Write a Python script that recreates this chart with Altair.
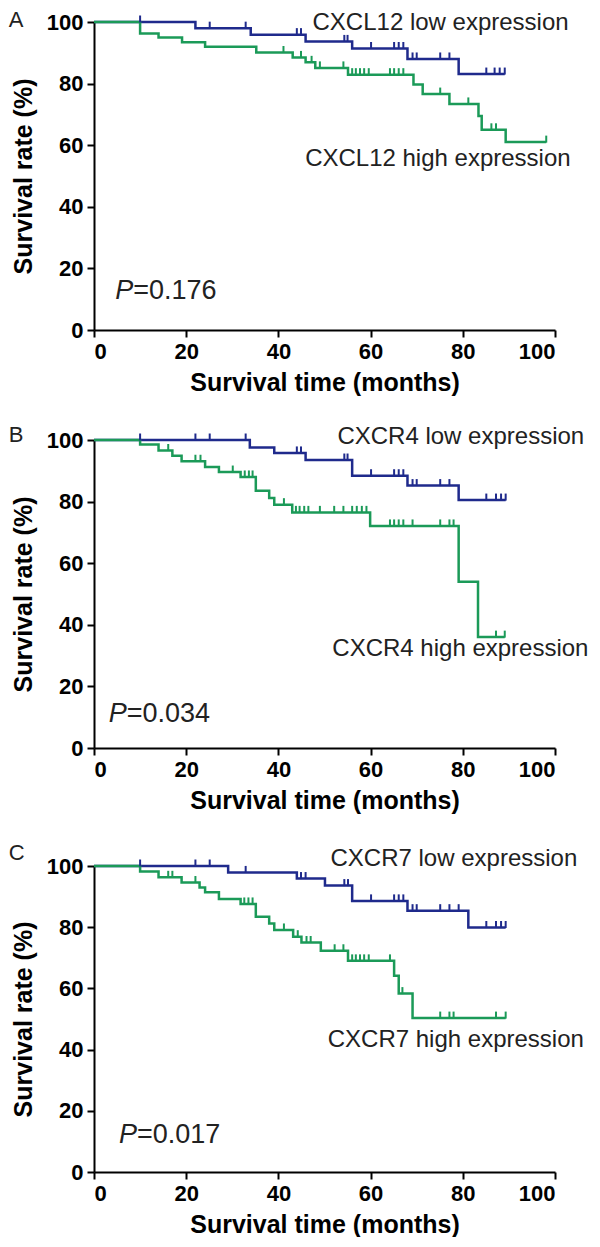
import altair as alt
import pandas as pd

FONT = "Liberation Sans"
BLUE = "#1f2a8c"
GREEN = "#1b9a58"

# ---------------- Panel A: CXCL12 ----------------
A_low_t = [22, 34, 45.9, 56, 68, 79.1]
A_low_s = [98.0, 95.9, 93.7, 91.4, 88.0, 83.1]
A_low_c = [10, 25.1, 32.9, 44, 44.9, 54.3, 55, 60.1, 65.1, 66.1, 67.1, 69.1, 70, 75.1, 77.1, 85.1, 86.9, 88, 89.1]
A_low_end = 89.1
A_high_t = [10, 14, 19.1, 24.1, 35.2, 43.1, 45.9, 48, 55.1, 69.3, 71.3, 77.1, 83.4, 84.1, 89.3]
A_high_s = [96.3, 95.0, 93.4, 92.0, 90.1, 88.5, 86.9, 85.1, 82.9, 79.7, 76.6, 73.4, 69.5, 65.0, 61.0]
A_high_c = [41.1, 44.9, 47.2, 49, 54.1, 56, 56.8, 57.7, 58.6, 59.6, 64.2, 65.1, 66.1, 67.1, 75.1, 81.2, 86.2, 87.2, 98.1]
A_high_end = 98.1

# ---------------- Panel B: CXCR4 ----------------
B_low_t = [33.8, 39.1, 45.9, 56, 68, 79.1]
B_low_s = [97.6, 95.8, 93.5, 88.4, 85.2, 80.5]
B_low_c = [10, 22, 25.1, 32.9, 44, 44.9, 54.3, 55, 60.1, 65.1, 66.1, 67.1, 69.1, 70, 75.1, 77.1, 85.1, 87.2, 88.3, 89.3]
B_low_end = 89.3
B_high_t = [10, 14, 17, 19, 24.1, 27.1, 31.8, 35.1, 38, 39.1, 43, 59.9, 79.1, 83.3]
B_high_s = [98.5, 96.6, 94.9, 93.1, 91.2, 89.6, 88.0, 83.5, 81.2, 79.0, 76.5, 72.1, 54.0, 36.0]
B_high_c = [16.1, 22, 23.1, 30.1, 32.7, 33.6, 34.4, 41.2, 43.8, 44.6, 45.6, 46.5, 49, 52.1, 54.1, 56, 57, 58.1, 59.1,
            64.2, 65.1, 66.1, 67.1, 69.1, 75.1, 77.1, 78, 87.2, 89.1]
B_high_end = 89.1

# ---------------- Panel C: CXCR7 ----------------
C_low_t = [29.1, 44, 50.1, 56, 68, 81.2]
C_low_s = [97.9, 95.9, 93.6, 88.6, 85.4, 79.9]
C_low_c = [10, 22, 25.1, 32.9, 44.9, 45.9, 54.3, 55.1, 60.1, 65.1, 66.1, 67.1, 69.1, 70, 75.1, 77.1, 79.1, 85.1, 87.2, 88.3, 89.3]
C_low_end = 89.3
C_high_t = [10, 14, 19, 22.9, 24.1, 27.1, 31.8, 35.1, 38, 39.1, 43.2, 45, 49.2, 55.1, 65.1, 66.1, 69.1]
C_high_s = [98.2, 96.3, 94.6, 93.0, 91.4, 89.2, 87.6, 83.4, 81.2, 79.1, 76.9, 75.0, 72.3, 69.0, 64.1, 58.3, 50.3]
C_high_c = [16.1, 17, 22, 32.6, 33.5, 34.4, 41.2, 44.2, 46.1, 47, 52.2, 54.1, 56, 56.8, 57.7, 58.6, 59.6, 64.2, 66.9,
            75.1, 77.1, 78, 87.2, 89.3]
C_high_end = 89.3

X_TICKS = [0, 20, 40, 60, 80, 100]
Y_TICKS = [0, 20, 40, 60, 80, 100]


def level_at(ts, ss, t):
    lvl = 100.0
    for et, es in zip(ts, ss):
        if et <= t:
            lvl = es
    return lvl


def curve_frames(group, ts, ss, cs, end):
    line = [{"t": 0.0, "s": 100.0, "g": group, "o": 0}]
    for i, (et, es) in enumerate(zip(ts, ss)):
        line.append({"t": et, "s": es, "g": group, "o": i + 1})
    line.append({"t": end, "s": ss[-1], "g": group, "o": len(ts) + 1})
    cens = [{"t": c, "s": level_at(ts, ss, c), "g": group} for c in cs]
    return line, cens


def panel(letter, low, high, low_lab, high_lab, pval, height):
    ll, lc = curve_frames("low", *low)
    hl, hc = curve_frames("high", *high)
    line_df = pd.DataFrame(ll + hl)
    cens_df = pd.DataFrame(lc + hc)

    xs = alt.Scale(domain=[0, 100], nice=False, zero=False)
    ys = alt.Scale(domain=[0, 100], nice=False, zero=False)
    color = alt.Color("g:N", scale=alt.Scale(domain=["low", "high"], range=[BLUE, GREEN]), legend=None)

    lines = alt.Chart(line_df).mark_line(interpolate="step-after", strokeWidth=2.5).encode(
        x=alt.X("t:Q", scale=xs, axis=alt.Axis(values=X_TICKS, title="Survival time (months)", format="d")),
        y=alt.Y("s:Q", scale=ys, axis=alt.Axis(values=Y_TICKS, title="Survival rate (%)", format="d")),
        color=color,
        detail="g:N",
        order="o:Q",
    )
    ticks = alt.Chart(cens_df).mark_tick(orient="vertical", size=7, thickness=2, yOffset=-3,
                                         opacity=1).encode(
        x=alt.X("t:Q", scale=xs), y=alt.Y("s:Q", scale=ys), color=color
    )

    lab_df = pd.DataFrame({
        "t": [low_lab[1], high_lab[1]],
        "s": [low_lab[2], high_lab[2]],
        "txt": [low_lab[0], high_lab[0]],
    })
    labels = alt.Chart(lab_df).mark_text(align="left", baseline="alphabetic", font=FONT, fontSize=24,
                                         color="#222222").encode(
        x=alt.X("t:Q", scale=xs), y=alt.Y("s:Q", scale=ys), text="txt:N")

    p_df = pd.DataFrame({"t": [pval[1]], "s": [pval[2]], "txt": ["P"], "val": [pval[0]]})
    p_it = alt.Chart(p_df).mark_text(align="left", baseline="alphabetic", font=FONT, fontSize=27,
                                     fontStyle="italic", color="#222222").encode(
        x=alt.X("t:Q", scale=xs), y=alt.Y("s:Q", scale=ys), text="txt:N")
    p_val = alt.Chart(p_df).mark_text(align="left", baseline="alphabetic", font=FONT, fontSize=27,
                                      dx=18, color="#222222").encode(
        x=alt.X("t:Q", scale=xs), y=alt.Y("s:Q", scale=ys), text="val:N")

    let_df = pd.DataFrame({"t": [letter[1]], "s": [letter[2]], "txt": [letter[0]]})
    let_mark = alt.Chart(let_df).mark_text(align="left", baseline="alphabetic", font=FONT, fontSize=22,
                                           color="#222222").encode(
        x=alt.X("t:Q", scale=xs), y=alt.Y("s:Q", scale=ys), text="txt:N")

    return alt.layer(lines, ticks, labels, p_it, p_val, let_mark).properties(width=461, height=height)


pA = panel(("A", -18.5, 98.4), (A_low_t, A_low_s, A_low_c, A_low_end), (A_high_t, A_high_s, A_high_c, A_high_end),
           ("CXCL12 low expression", 47.4, 97.4), ("CXCL12 high expression", 45.8, 53.3), ("=0.176", 4.6, 10.1), 308)
pB = panel(("B", -18.5, 99.5), (B_low_t, B_low_s, B_low_c, B_low_end), (B_high_t, B_high_s, B_high_c, B_high_end),
           ("CXCR4 low expression", 52.8, 98.7), ("CXCR4 high expression", 51.7, 29.8), ("=0.034", 3.2, 8.5), 308)
pC = panel(("C", -18.5, 102.0), (C_low_t, C_low_s, C_low_c, C_low_end), (C_high_t, C_high_s, C_high_c, C_high_end),
           ("CXCR7 low expression", 51.3, 100.0), ("CXCR7 high expression", 50.7, 40.7), ("=0.017", 5.4, 9.5), 306)

chart = alt.vconcat(pA, pB, pC, spacing=28).properties(
    padding={"left": 0, "top": 0, "right": 0, "bottom": 0}
).configure_view(stroke=None).configure_axis(
    grid=False,
    domainColor="black", domainWidth=2,
    tickColor="black", tickWidth=2, tickSize=7,
    labelFont=FONT, labelFontWeight="bold", labelFontSize=22, labelColor="black", labelPadding=4,
    titleFont=FONT, titleFontWeight="bold", titleFontSize=25, titleColor="black",
).configure_axisX(titlePadding=8).configure_axisY(titlePadding=10)

chart.save("out.html", embed_options={"renderer": "svg", "actions": False})
